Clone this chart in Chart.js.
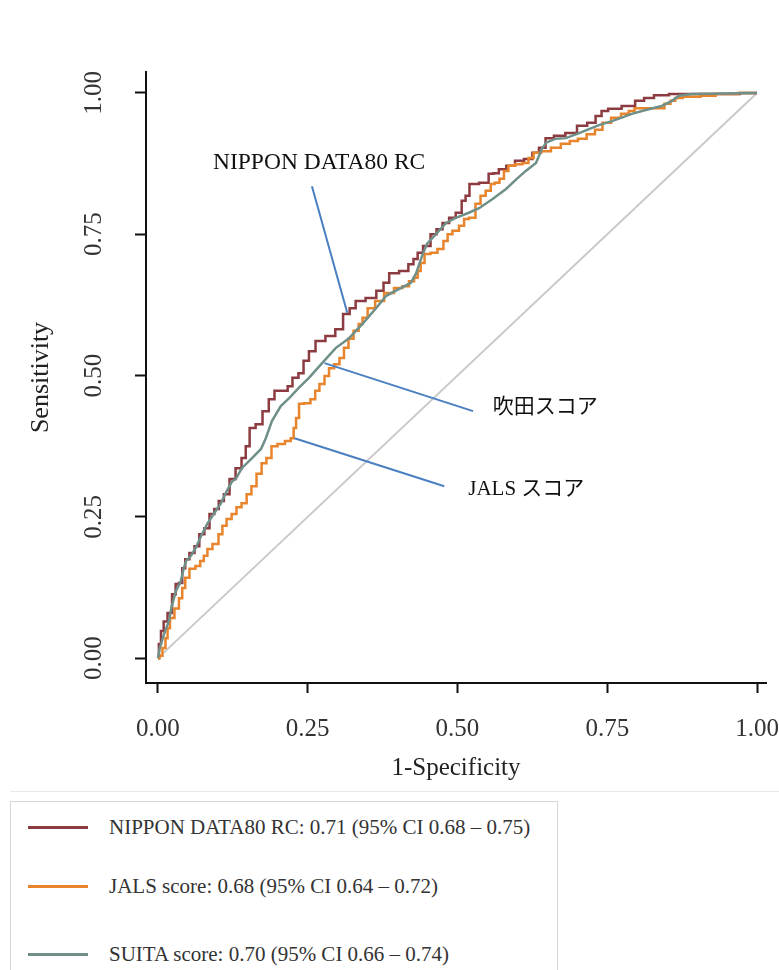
<!DOCTYPE html>
<html>
<head>
<meta charset="utf-8">
<script src="https://cdn.jsdelivr.net/npm/chart.js@4.4.1/dist/chart.umd.min.js"></script>
<style>
  html, body { margin: 0; padding: 0; background: #fff; }
  body { width: 779px; height: 970px; position: relative; overflow: hidden; font-family: 'Liberation Serif', 'Noto Sans CJK JP', serif; }
  #rocChart { position: absolute; left: 0; top: 0; }
  #sep { position: absolute; left: 10px; right: 0; top: 791px; height: 1px; background: #e9e9e9; }
  #legendBox { position: absolute; left: 10px; top: 801px; width: 548px; height: 190px; border: 1px solid #d6d6d6; box-sizing: border-box; }
  .item { position: absolute; left: 0; height: 30px; }
  .item .swatch { position: absolute; left: 17px; top: 14px; width: 60px; height: 3px; }
  .item .txt { position: absolute; left: 98px; top: 0; font-size: 21px; line-height: 30px; color: #333; white-space: nowrap; }
</style>
</head>
<body>
<canvas id="rocChart" width="779" height="790"></canvas>
<div id="sep"></div>
<div id="legendBox"></div>
<script>
// curvas ROC (1-especificidade, sensibilidade)
const nipponFpr = [0, 0.003, 0.007, 0.012, 0.020, 0.027, 0.032, 0.038, 0.043, 0.048, 0.057, 0.065, 0.073, 0.082, 0.090, 0.098, 0.105, 0.115, 0.124, 0.135, 0.144, 0.149, 0.157, 0.169, 0.180, 0.190, 0.199, 0.214, 0.219, 0.230, 0.239, 0.247, 0.257, 0.269, 0.290, 0.302, 0.316, 0.324, 0.336, 0.357, 0.372, 0.381, 0.391, 0.414, 0.422, 0.431, 0.436, 0.449, 0.461, 0.469, 0.481, 0.491, 0.503, 0.511, 0.516, 0.524, 0.548, 0.556, 0.564, 0.574, 0.589, 0.603, 0.619, 0.631, 0.641, 0.653, 0.669, 0.691, 0.708, 0.725, 0.736, 0.745, 0.758, 0.790, 0.803, 0.820, 0.836, 0.870, 0.942, 1.0];
const nipponTpr = [0, 0.025, 0.048, 0.065, 0.080, 0.113, 0.131, 0.133, 0.159, 0.175, 0.186, 0.198, 0.219, 0.230, 0.255, 0.264, 0.278, 0.290, 0.317, 0.336, 0.354, 0.375, 0.407, 0.414, 0.437, 0.458, 0.473, 0.473, 0.481, 0.496, 0.504, 0.526, 0.543, 0.561, 0.570, 0.582, 0.609, 0.619, 0.632, 0.637, 0.650, 0.664, 0.681, 0.685, 0.697, 0.706, 0.717, 0.729, 0.750, 0.759, 0.770, 0.779, 0.788, 0.809, 0.818, 0.839, 0.841, 0.857, 0.858, 0.865, 0.871, 0.880, 0.883, 0.894, 0.903, 0.920, 0.924, 0.929, 0.942, 0.947, 0.959, 0.968, 0.972, 0.977, 0.986, 0.991, 0.996, 0.998, 0.998, 1.0];

const jalsFpr = [0, 0.005, 0.010, 0.015, 0.017, 0.023, 0.032, 0.038, 0.043, 0.048, 0.057, 0.068, 0.073, 0.080, 0.085, 0.097, 0.105, 0.110, 0.119, 0.127, 0.135, 0.144, 0.152, 0.160, 0.169, 0.177, 0.185, 0.194, 0.205, 0.219, 0.224, 0.229, 0.232, 0.239, 0.249, 0.260, 0.265, 0.274, 0.282, 0.289, 0.299, 0.307, 0.314, 0.322, 0.331, 0.339, 0.344, 0.356, 0.369, 0.386, 0.402, 0.414, 0.424, 0.431, 0.436, 0.441, 0.449, 0.461, 0.472, 0.481, 0.486, 0.497, 0.508, 0.514, 0.524, 0.536, 0.541, 0.553, 0.558, 0.566, 0.574, 0.581, 0.589, 0.603, 0.614, 0.623, 0.631, 0.648, 0.664, 0.681, 0.694, 0.708, 0.723, 0.736, 0.748, 0.765, 0.781, 0.791, 0.800, 0.841, 0.850, 0.861, 0.866, 0.886, 0.925, 0.937, 1.0];
const jalsTpr = [0, 0.004, 0.018, 0.035, 0.053, 0.071, 0.088, 0.106, 0.124, 0.142, 0.158, 0.163, 0.172, 0.181, 0.193, 0.202, 0.219, 0.234, 0.246, 0.255, 0.267, 0.274, 0.290, 0.304, 0.326, 0.345, 0.354, 0.375, 0.379, 0.384, 0.389, 0.407, 0.425, 0.450, 0.451, 0.458, 0.473, 0.485, 0.499, 0.513, 0.520, 0.531, 0.549, 0.565, 0.579, 0.591, 0.602, 0.619, 0.632, 0.646, 0.655, 0.658, 0.667, 0.673, 0.685, 0.699, 0.715, 0.717, 0.724, 0.738, 0.750, 0.756, 0.765, 0.777, 0.779, 0.804, 0.818, 0.827, 0.839, 0.841, 0.848, 0.862, 0.871, 0.874, 0.876, 0.885, 0.894, 0.897, 0.903, 0.910, 0.915, 0.919, 0.927, 0.935, 0.947, 0.956, 0.963, 0.968, 0.973, 0.973, 0.981, 0.986, 0.991, 0.993, 0.995, 0.998, 1.0];

const suitaFpr = [0, 0.003, 0.010, 0.018, 0.023, 0.030, 0.038, 0.043, 0.047, 0.055, 0.063, 0.072, 0.082, 0.093, 0.105, 0.115, 0.124, 0.130, 0.140, 0.157, 0.172, 0.180, 0.190, 0.205, 0.219, 0.235, 0.252, 0.274, 0.297, 0.319, 0.341, 0.364, 0.381, 0.402, 0.422, 0.431, 0.441, 0.449, 0.464, 0.481, 0.497, 0.519, 0.536, 0.558, 0.581, 0.599, 0.614, 0.631, 0.641, 0.648, 0.664, 0.681, 0.703, 0.736, 0.758, 0.791, 0.808, 0.841, 0.858, 0.870, 0.891, 1.0];
const suitaTpr = [0, 0.018, 0.042, 0.065, 0.092, 0.119, 0.136, 0.159, 0.172, 0.181, 0.195, 0.216, 0.237, 0.255, 0.274, 0.296, 0.313, 0.317, 0.336, 0.354, 0.370, 0.389, 0.419, 0.446, 0.460, 0.478, 0.496, 0.522, 0.549, 0.566, 0.591, 0.619, 0.641, 0.653, 0.664, 0.681, 0.712, 0.733, 0.750, 0.770, 0.779, 0.788, 0.796, 0.812, 0.830, 0.848, 0.862, 0.876, 0.901, 0.912, 0.919, 0.920, 0.929, 0.943, 0.950, 0.963, 0.968, 0.977, 0.986, 0.995, 0.998, 1.0];

const seriesNames = ['NIPPON DATA80 RC', 'JALS score', 'SUITA score'];
const aucTexts = ['0.71 (95% CI 0.68 – 0.75)', '0.68 (95% CI 0.64 – 0.72)', '0.70 (95% CI 0.66 – 0.74)'];
const seriesColors = ['#8c3b40', '#e8842c', '#6f8f89'];
const tickValues = [0, 0.25, 0.5, 0.75, 1];

// rótulos com linha de chamada (coordenadas nos eixos)
const calloutTexts = ['NIPPON DATA80 RC', '吹田スコア', 'JALS スコア'];
const calloutFrom = [[0.257, 0.835], [0.278, 0.522], [0.228, 0.389]];
const calloutTo = [[0.316, 0.611], [0.526, 0.437], [0.478, 0.304]];
const calloutLabelAt = [[0.269, 0.876], [0.559, 0.444], [0.518, 0.299]];
const calloutAlign = ['center', 'left', 'left'];
const calloutSize = [23.5, 21, 21];

const serif = "'Liberation Serif', 'Noto Sans CJK JP', serif";

function pts(xs, ys) {
    return xs.map((x, i) => ({ x: x, y: ys[i] }));
}

const curves = [[nipponFpr, nipponTpr], [jalsFpr, jalsTpr], [suitaFpr, suitaTpr]];
const curveOrder = [3, 2, 1];
const curveStep = ['middle', 'middle', false];

const datasets = curves.map((c, i) => ({
    label: seriesNames[i],
    data: pts(c[0], c[1]),
    borderColor: seriesColors[i],
    borderWidth: 2.5,
    stepped: curveStep[i],
    order: curveOrder[i]
}));

datasets.push({
    label: 'ref',
    data: [{ x: 0, y: 0 }, { x: 1, y: 1 }],
    borderColor: '#c9c9c9',
    borderWidth: 2,
    order: 5
});

calloutFrom.forEach((p, i) => {
    datasets.push({
        label: 'callout' + i,
        data: [{ x: p[0], y: p[1] }, { x: calloutTo[i][0], y: calloutTo[i][1] }],
        borderColor: '#4a7fc2',
        borderWidth: 2,
        order: 0
    });
});

const calloutPlugin = {
    id: 'calloutText',
    afterDatasetsDraw(chart) {
        const ctx = chart.ctx;
        const xs = chart.scales.x, ys = chart.scales.y;
        ctx.save();
        ctx.fillStyle = '#111';
        ctx.textBaseline = 'middle';
        calloutTexts.forEach((t, i) => {
            ctx.font = calloutSize[i] + 'px ' + serif;
            ctx.textAlign = calloutAlign[i];
            ctx.fillText(t, xs.getPixelForValue(calloutLabelAt[i][0]), ys.getPixelForValue(calloutLabelAt[i][1]));
        });
        ctx.restore();
    }
};

function setTicks(scale) {
    scale.ticks = tickValues.map(v => ({ value: v }));
}

function noOverhang(s) {
    s.paddingLeft = 0;
    s.paddingRight = 0;
    s.paddingTop = 0;
    s.paddingBottom = 0;
}

new Chart(document.getElementById('rocChart'), {
    type: 'scatter',
    data: { datasets: datasets },
    options: {
        responsive: false,
        animation: false,
        devicePixelRatio: 1,
        showLine: true,
        elements: {
            point: { radius: 0, hoverRadius: 0 },
            line: { tension: 0, fill: false }
        },
        layout: { padding: { top: 72, right: 13, bottom: 0, left: 0 } },
        plugins: {
            legend: { display: false },
            tooltip: { enabled: false }
        },
        scales: {
            x: {
                type: 'linear',
                min: -0.02,
                max: 1.015,
                afterBuildTicks: setTicks,
                afterFit: s => { s.height = 107; noOverhang(s); },
                ticks: {
                    color: '#333',
                    padding: 21,
                    font: { family: serif, size: 25 },
                    callback: v => v.toFixed(2)
                },
                grid: { drawOnChartArea: false, drawTicks: true, tickLength: 10, tickWidth: 2, tickColor: '#111' },
                border: { display: true, color: '#111', width: 2 },
                title: {
                    display: true,
                    text: '1-Specificity',
                    color: '#222',
                    font: { family: serif, size: 25 },
                    padding: { top: 0, bottom: 7 }
                }
            },
            y: {
                type: 'linear',
                min: -0.044,
                max: 1.037,
                afterBuildTicks: setTicks,
                afterFit: s => { s.width = 146; noOverhang(s); },
                ticks: {
                    color: '#333',
                    padding: 19,
                    minRotation: 90,
                    maxRotation: 90,
                    crossAlign: 'center',
                    font: { family: serif, size: 25 },
                    callback: v => v.toFixed(2)
                },
                grid: { drawOnChartArea: false, drawTicks: true, tickLength: 11, tickWidth: 2, tickColor: '#111' },
                border: { display: true, color: '#111', width: 2 },
                title: {
                    display: true,
                    text: 'Sensitivity',
                    color: '#222',
                    font: { family: serif, size: 26 },
                    padding: { top: 26, bottom: 0 }
                }
            }
        }
    },
    plugins: [calloutPlugin]
});

// legenda em HTML
const legendRows = [25, 84, 152];
const box = document.getElementById('legendBox');
seriesNames.forEach((n, i) => {
    const row = document.createElement('div');
    row.className = 'item';
    row.style.top = (legendRows[i] - 15) + 'px';
    const sw = document.createElement('div');
    sw.className = 'swatch';
    sw.style.background = seriesColors[i];
    const tx = document.createElement('div');
    tx.className = 'txt';
    tx.textContent = n + ': ' + aucTexts[i];
    row.appendChild(sw);
    row.appendChild(tx);
    box.appendChild(row);
});
</script>
</body>
</html>
